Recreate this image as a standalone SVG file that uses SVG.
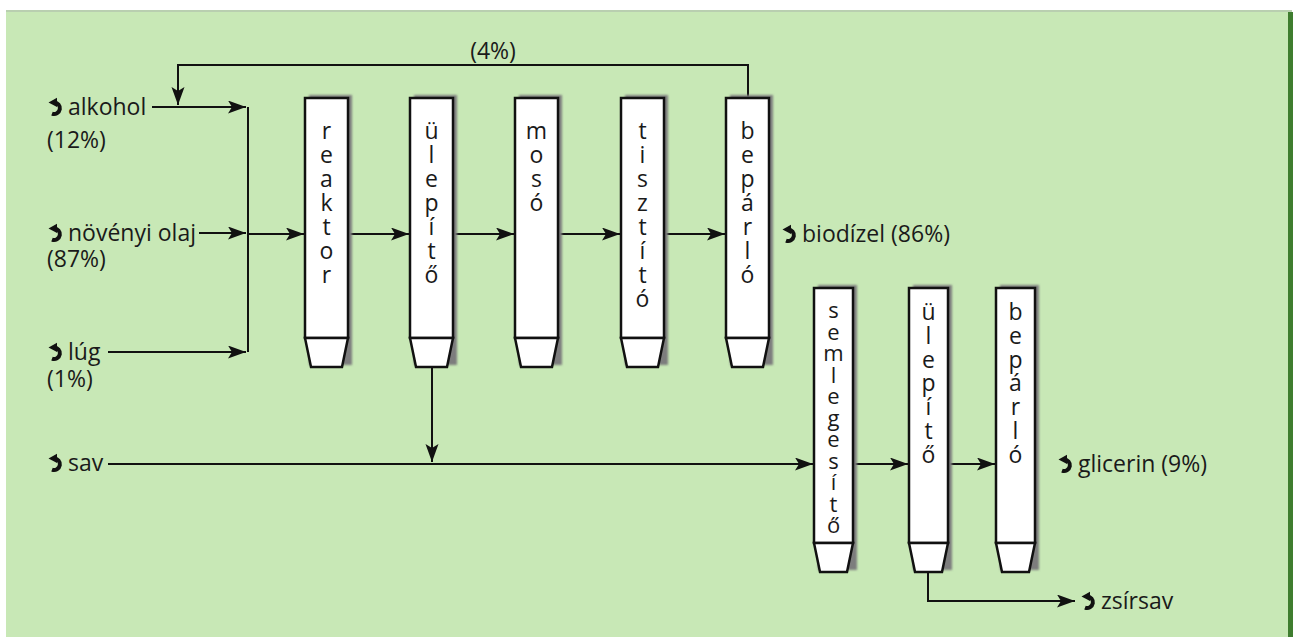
<svg xmlns="http://www.w3.org/2000/svg" xmlns:xlink="http://www.w3.org/1999/xlink" width="1298" height="637" viewBox="0 0 1298 637">
<style>
  .lbl{font-family:"Open Sans","Noto Sans","Liberation Sans",sans-serif;font-size:23px;fill:#1a1a1a}
  .col{font-family:"Open Sans","Noto Sans","Liberation Sans",sans-serif;font-size:23px;fill:#1a1a1a;text-anchor:middle}
  .body{fill:#ffffff;stroke:#111;stroke-width:2.5}
  .shadow{fill:#7d7d7d;filter:url(#blur)}
  .ln{fill:none;stroke:#111;stroke-width:2}
  .arr{marker-end:url(#ah)}
</style>
<defs>
  <filter id="blur" x="-20%" y="-5%" width="140%" height="110%"><feGaussianBlur stdDeviation="1.2"/></filter>
  <marker id="ah" markerUnits="userSpaceOnUse" markerWidth="20" markerHeight="14" refX="18" refY="6.5" orient="auto">
    <path d="M0,0 L18,6.5 L0,13 L4,6.5 z" fill="#111"/>
  </marker>
  <g id="ic">
    <path d="M-2,-5.6 A5.8,5.8 0 1 1 -4,5.6" fill="none" stroke="#111" stroke-width="4"/>
    <path d="M1,-10.2 L-7.5,-5.6 L1,-1 z" fill="#111"/>
  </g>
</defs>
<rect width="1298" height="637" fill="#ffffff"/>
<rect x="6" y="10" width="1286" height="627" fill="#c8e8b6"/>
<rect x="6" y="10" width="1286" height="2" fill="#b9cfb0"/>
<rect x="1288" y="12" width="5" height="625" fill="#3f7d2f"/>

<g id="connectors">
  <path class="ln" d="M748,98 V65 H178 V105" marker-end="url(#ah)"/>
  <path class="ln arr" d="M152,107 H246"/>
  <path class="ln arr" d="M199,233 H246"/>
  <path class="ln arr" d="M108,352 H246"/>
  <path class="ln" d="M248,107 V352"/>
  <path class="ln arr" d="M248,234 H304"/>
  <path class="ln arr" d="M348,234 H409"/>
  <path class="ln arr" d="M453,234 H514"/>
  <path class="ln arr" d="M558,234 H620"/>
  <path class="ln arr" d="M664,234 H725"/>
  <path class="ln arr" d="M432,367 V462"/>
  <path class="ln arr" d="M108,464 H813"/>
  <path class="ln arr" d="M853,464 H908"/>
  <path class="ln arr" d="M948,464 H995"/>
  <path class="ln arr" d="M928,572 V601 H1075"/>
</g>

<g id="labels">
  <text class="lbl" x="493" y="59" text-anchor="middle">(4%)</text>
  <use xlink:href="#ic" x="56" y="108"/>
  <text class="lbl" x="68" y="115">alkohol</text>
  <text class="lbl" x="47" y="148">(12%)</text>
  <use xlink:href="#ic" x="56" y="234"/>
  <text class="lbl" x="68" y="241">növényi olaj</text>
  <text class="lbl" x="47" y="267">(87%)</text>
  <use xlink:href="#ic" x="56" y="353"/>
  <text class="lbl" x="68" y="360">lúg</text>
  <text class="lbl" x="47" y="387">(1%)</text>
  <use xlink:href="#ic" x="56" y="464"/>
  <text class="lbl" x="68" y="471">sav</text>
  <use xlink:href="#ic" x="790" y="235"/>
  <text class="lbl" x="802" y="242">biodízel (86%)</text>
  <use xlink:href="#ic" x="1066" y="465"/>
  <text class="lbl" x="1078" y="472">glicerin (9%)</text>
  <use xlink:href="#ic" x="1089" y="602"/>
  <text class="lbl" x="1101" y="609">zsírsav</text>
</g>

<g id="reaktor">
  <rect class="shadow" x="309" y="95" width="43" height="270"/>
  <rect class="body" x="305" y="98" width="43" height="240"/>
  <polygon class="body" points="305,338 348,338 342,367 311,367"/>
  <text class="col" x="326.5" y="139"><tspan x="326.5">r</tspan><tspan x="326.5" dy="24">e</tspan><tspan x="326.5" dy="24">a</tspan><tspan x="326.5" dy="24">k</tspan><tspan x="326.5" dy="24">t</tspan><tspan x="326.5" dy="24">o</tspan><tspan x="326.5" dy="24">r</tspan></text>
</g>
<g id="ulepito1">
  <rect class="shadow" x="414" y="95" width="43" height="270"/>
  <rect class="body" x="410" y="98" width="43" height="240"/>
  <polygon class="body" points="410,338 453,338 447,367 416,367"/>
  <text class="col" x="431.5" y="139"><tspan x="431.5">ü</tspan><tspan x="431.5" dy="24">l</tspan><tspan x="431.5" dy="24">e</tspan><tspan x="431.5" dy="24">p</tspan><tspan x="431.5" dy="24">í</tspan><tspan x="431.5" dy="24">t</tspan><tspan x="431.5" dy="24">ő</tspan></text>
</g>
<g id="moso">
  <rect class="shadow" x="519" y="95" width="43" height="270"/>
  <rect class="body" x="515" y="98" width="43" height="240"/>
  <polygon class="body" points="515,338 558,338 552,367 521,367"/>
  <text class="col" x="536.5" y="139"><tspan x="536.5">m</tspan><tspan x="536.5" dy="24">o</tspan><tspan x="536.5" dy="24">s</tspan><tspan x="536.5" dy="24">ó</tspan></text>
</g>
<g id="tisztito">
  <rect class="shadow" x="625" y="95" width="43" height="270"/>
  <rect class="body" x="621" y="98" width="43" height="240"/>
  <polygon class="body" points="621,338 664,338 658,367 627,367"/>
  <text class="col" x="642.5" y="139"><tspan x="642.5">t</tspan><tspan x="642.5" dy="24">i</tspan><tspan x="642.5" dy="24">s</tspan><tspan x="642.5" dy="24">z</tspan><tspan x="642.5" dy="24">t</tspan><tspan x="642.5" dy="24">í</tspan><tspan x="642.5" dy="24">t</tspan><tspan x="642.5" dy="24">ó</tspan></text>
</g>
<g id="beparlo1">
  <rect class="shadow" x="730" y="95" width="43" height="270"/>
  <rect class="body" x="726" y="98" width="43" height="240"/>
  <polygon class="body" points="726,338 769,338 763,367 732,367"/>
  <text class="col" x="747.5" y="139"><tspan x="747.5">b</tspan><tspan x="747.5" dy="24">e</tspan><tspan x="747.5" dy="24">p</tspan><tspan x="747.5" dy="24">á</tspan><tspan x="747.5" dy="24">r</tspan><tspan x="747.5" dy="24">l</tspan><tspan x="747.5" dy="24">ó</tspan></text>
</g>
<g id="semlegesito">
  <rect class="shadow" x="818" y="285" width="39" height="285"/>
  <rect class="body" x="814" y="288" width="39" height="255"/>
  <polygon class="body" points="814,543 853,543 847,572 820,572"/>
  <text class="col" x="833.5" y="318" style="font-size:22px"><tspan x="833.5">s</tspan><tspan x="833.5" dy="21.5">e</tspan><tspan x="833.5" dy="21.5">m</tspan><tspan x="833.5" dy="21.5">l</tspan><tspan x="833.5" dy="21.5">e</tspan><tspan x="833.5" dy="21.5">g</tspan><tspan x="833.5" dy="21.5">e</tspan><tspan x="833.5" dy="21.5">s</tspan><tspan x="833.5" dy="21.5">í</tspan><tspan x="833.5" dy="21.5">t</tspan><tspan x="833.5" dy="21.5">ő</tspan></text>
</g>
<g id="ulepito2">
  <rect class="shadow" x="913" y="285" width="39" height="285"/>
  <rect class="body" x="909" y="288" width="39" height="255"/>
  <polygon class="body" points="909,543 948,543 942,572 915,572"/>
  <text class="col" x="928.5" y="320"><tspan x="928.5">ü</tspan><tspan x="928.5" dy="23.8">l</tspan><tspan x="928.5" dy="23.8">e</tspan><tspan x="928.5" dy="23.8">p</tspan><tspan x="928.5" dy="23.8">í</tspan><tspan x="928.5" dy="23.8">t</tspan><tspan x="928.5" dy="23.8">ő</tspan></text>
</g>
<g id="beparlo2">
  <rect class="shadow" x="1000" y="285" width="39" height="285"/>
  <rect class="body" x="996" y="288" width="39" height="255"/>
  <polygon class="body" points="996,543 1035,543 1029,572 1002,572"/>
  <text class="col" x="1015.5" y="320"><tspan x="1015.5">b</tspan><tspan x="1015.5" dy="23.8">e</tspan><tspan x="1015.5" dy="23.8">p</tspan><tspan x="1015.5" dy="23.8">á</tspan><tspan x="1015.5" dy="23.8">r</tspan><tspan x="1015.5" dy="23.8">l</tspan><tspan x="1015.5" dy="23.8">ó</tspan></text>
</g>
</svg>
